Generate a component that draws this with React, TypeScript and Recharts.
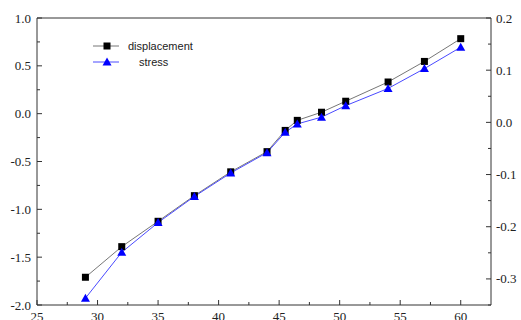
import { Line, LineChart, ReferenceLine, XAxis, YAxis } from "recharts";

const xValues = [29, 32, 35, 38, 41, 44, 45.5, 46.5, 48.5, 50.5, 54, 57, 60];
const displacement = [-1.71, -1.39, -1.125, -0.857, -0.608, -0.397, -0.175, -0.07, 0.015, 0.13, 0.331, 0.546, 0.784];
const stress = [-0.337, -0.249, -0.192, -0.142, -0.097, -0.058, -0.019, -0.003, 0.01, 0.032, 0.065, 0.103, 0.144];

const xTicks = [25, 27.5, 30, 32.5, 35, 37.5, 40, 42.5, 45, 47.5, 50, 52.5, 55, 57.5, 60];
const leftTicks = [-2, -1.75, -1.5, -1.25, -1, -0.75, -0.5, -0.25, 0, 0.25, 0.5, 0.75, 1];
const rightTicks = [-0.35, -0.3, -0.25, -0.2, -0.15, -0.1, -0.05, 0, 0.05, 0.1, 0.15, 0.2];

const data = xValues.map((x, i) => ({ x, displacement: displacement[i], stress: stress[i] }));

const axisColor = "#333";
const serif = "Liberation Serif, DejaVu Serif, serif";
const sans = "Liberation Sans, Arial, sans-serif";
const dispColor = "#000";
const dispLine = "#777";
const stressColor = "#0000ff";
const stressLine = "#4a4aff";

const isStep = (v: number, step: number) => Math.abs(v / step - Math.round(v / step)) < 1e-6;

function LeftTick({ x, y, payload }: any) {
  const major = isStep(payload.value, 0.5);
  return (
    <g>
      <line x1={x} x2={x + (major ? 5 : 3)} y1={y} y2={y} stroke={axisColor} />
      {major && (
        <text x={x - 6} y={y} dy="0.35em" textAnchor="end" fontFamily={serif} fontSize={13} fill="#222">
          {payload.value.toFixed(1)}
        </text>
      )}
    </g>
  );
}

function RightTick({ x, y, payload }: any) {
  const major = isStep(payload.value, 0.1);
  return (
    <g>
      <line x1={x} x2={x - (major ? 5 : 3)} y1={y} y2={y} stroke={axisColor} />
      {major && (
        <text x={x + 5} y={y} dy="0.35em" textAnchor="start" fontFamily={serif} fontSize={13} fill="#222">
          {payload.value.toFixed(1)}
        </text>
      )}
    </g>
  );
}

function BottomTick({ x, y, payload }: any) {
  const major = isStep(payload.value, 5);
  return (
    <g>
      <line x1={x} x2={x} y1={y} y2={y - (major ? 5 : 3)} stroke={axisColor} />
      {major && (
        <text x={x} y={y + 16} textAnchor="middle" fontFamily={serif} fontSize={13} fill="#222">
          {payload.value}
        </text>
      )}
    </g>
  );
}

const Square = ({ cx, cy, index }: any) => (
  <rect key={index} x={cx - 3.5} y={cy - 3.5} width={7} height={7} fill={dispColor} />
);

const Triangle = ({ cx, cy, index }: any) => (
  <polygon key={index} points={`${cx},${cy - 4.5} ${cx - 4.5},${cy + 3.5} ${cx + 4.5},${cy + 3.5}`} fill={stressColor} />
);

// legend drawn as an overlay so it doesn't push the plot area down
function LegendBox() {
  return (
    <svg width={130} height={32} style={{ position: "absolute", left: 90, top: 38 }}>
      <line x1={3} x2={29} y1={8} y2={8} stroke={dispLine} />
      <rect x={13.5} y={4.5} width={7} height={7} fill={dispColor} />
      <text x={38} y={8} dy="0.35em" fontFamily={sans} fontSize={11} fill="#222">
        displacement
      </text>
      <line x1={3} x2={29} y1={24} y2={24} stroke={stressLine} />
      <polygon points="17,19.5 12.5,27.5 21.5,27.5" fill={stressColor} />
      <text x={49} y={24} dy="0.35em" fontFamily={sans} fontSize={11} fill="#222">
        stress
      </text>
    </svg>
  );
}

export default function App() {
  return (
    <div style={{ position: "absolute", left: 0, top: 0, width: 521, height: 320, background: "#fff" }}>
      <LineChart width={521} height={320} data={data} margin={{ top: 18, right: 0, left: 0, bottom: 0 }}>
        <XAxis
          dataKey="x"
          type="number"
          domain={[25, 62.5]}
          ticks={xTicks}
          height={15}
          tickSize={0}
          tickMargin={0}
          tickLine={false}
          stroke={axisColor}
          tick={<BottomTick />}
          interval={0}
        />
        <YAxis
          yAxisId="left"
          orientation="left"
          type="number"
          domain={[-2, 1]}
          ticks={leftTicks}
          width={37}
          tickSize={0}
          tickMargin={0}
          tickLine={false}
          stroke={axisColor}
          tick={<LeftTick />}
          interval={0}
        />
        <YAxis
          yAxisId="right"
          orientation="right"
          type="number"
          domain={[-0.35, 0.2]}
          ticks={rightTicks}
          width={30}
          tickSize={0}
          tickMargin={0}
          tickLine={false}
          stroke={axisColor}
          tick={<RightTick />}
          interval={0}
        />
        <ReferenceLine yAxisId="left" y={1} stroke={axisColor} />
        <Line
          yAxisId="left"
          dataKey="displacement"
          stroke={dispLine}
          strokeWidth={1}
          dot={<Square />}
          activeDot={false}
          isAnimationActive={false}
          type="linear"
        />
        <Line
          yAxisId="right"
          dataKey="stress"
          stroke={stressLine}
          strokeWidth={1}
          dot={<Triangle />}
          activeDot={false}
          isAnimationActive={false}
          type="linear"
        />
      </LineChart>
      <LegendBox />
    </div>
  );
}
